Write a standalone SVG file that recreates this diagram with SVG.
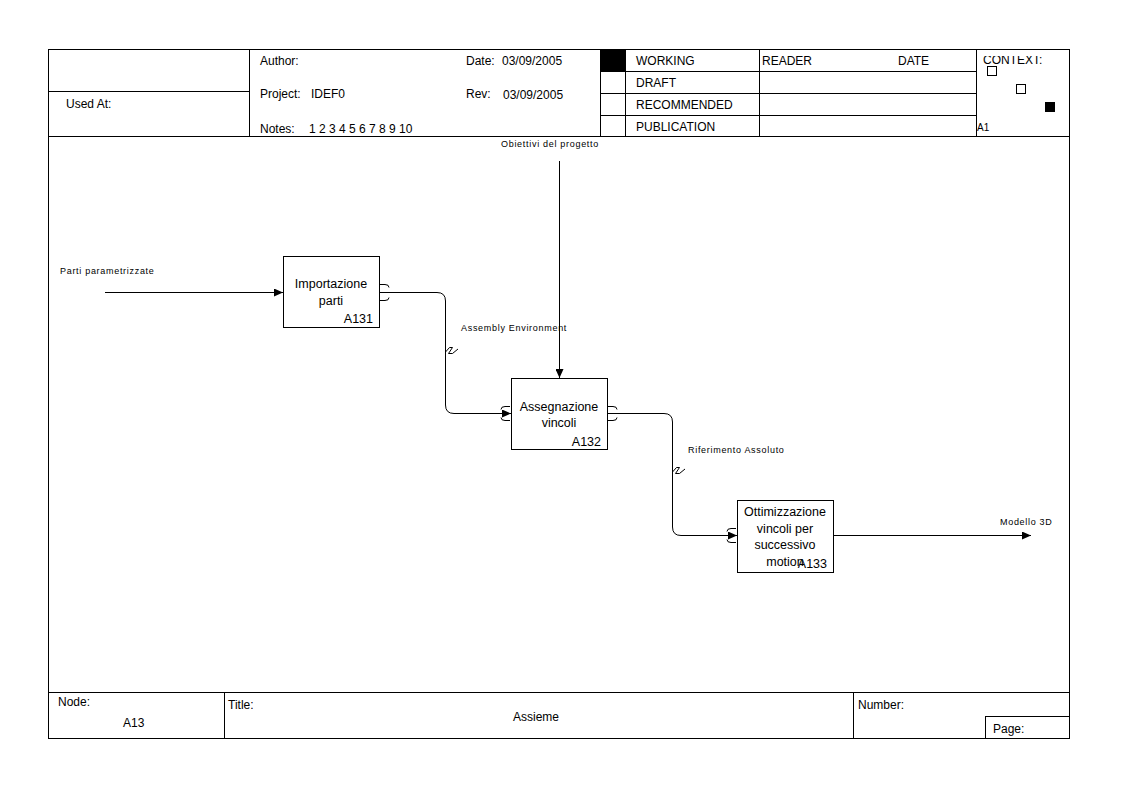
<svg xmlns="http://www.w3.org/2000/svg" width="1122" height="794" viewBox="0 0 1122 794">
<style>
.ln{stroke:#000;stroke-width:1;fill:none}
.t{font-family:"Liberation Sans",Arial,sans-serif;font-size:12px;fill:#000}
.s{font-family:"Liberation Sans",Arial,sans-serif;font-size:9px;letter-spacing:0.7px;fill:#000}
.b{font-family:"Liberation Sans",Arial,sans-serif;font-size:12.5px;fill:#000}
.box{fill:#fff;stroke:#000;stroke-width:1}
</style>
<defs>
<marker id="ah" markerWidth="10" markerHeight="8" refX="9" refY="4" orient="auto" markerUnits="userSpaceOnUse">
<path d="M0,0 L9,4 L0,8 Z" fill="#000"/>
</marker>
<clipPath id="ctx"><rect x="977" y="56" width="92" height="80"/></clipPath>
</defs>
<rect width="1122" height="794" fill="#fff"/>
<g id="frame">
<rect x="48.5" y="49.5" width="1021" height="689" class="ln"/>
<line x1="48" y1="136.5" x2="1070" y2="136.5" class="ln"/>
<line x1="48" y1="692.5" x2="1070" y2="692.5" class="ln"/>
</g>
<g id="header">
<line x1="249.5" y1="49" x2="249.5" y2="136" class="ln"/>
<line x1="48" y1="91.5" x2="249" y2="91.5" class="ln"/>
<text x="66" y="108" class="t">Used At:</text>
<text x="260" y="65" class="t">Author:</text>
<text x="466" y="65" class="t">Date:</text>
<text x="502" y="65" class="t">03/09/2005</text>
<text x="260" y="98" class="t">Project:</text>
<text x="311" y="98" class="t">IDEF0</text>
<text x="466" y="98" class="t">Rev:</text>
<text x="503" y="99" class="t">03/09/2005</text>
<text x="260" y="133" class="t">Notes:</text>
<text x="309" y="133" class="t">1 2 3 4 5 6 7 8 9 10</text>
<line x1="600.5" y1="49" x2="600.5" y2="136" class="ln"/>
<line x1="625.5" y1="49" x2="625.5" y2="136" class="ln"/>
<line x1="759.5" y1="49" x2="759.5" y2="136" class="ln"/>
<line x1="976.5" y1="49" x2="976.5" y2="136" class="ln"/>
<line x1="600" y1="71.5" x2="976" y2="71.5" class="ln"/>
<line x1="600" y1="93.5" x2="976" y2="93.5" class="ln"/>
<line x1="600" y1="115.5" x2="976" y2="115.5" class="ln"/>
<rect x="601" y="50" width="24" height="21" fill="#000"/>
<text x="636" y="65" class="t">WORKING</text>
<text x="636" y="87" class="t">DRAFT</text>
<text x="636" y="109" class="t">RECOMMENDED</text>
<text x="636" y="131" class="t">PUBLICATION</text>
<text x="762" y="65" class="t">READER</text>
<text x="898" y="65" class="t">DATE</text>
<text x="983" y="64" class="t" clip-path="url(#ctx)">CONTEXT:</text>
<rect x="987.5" y="66.5" width="9" height="9" class="ln" style="fill:#fff"/>
<rect x="1016.5" y="84.5" width="9" height="9" class="ln" style="fill:#fff"/>
<rect x="1045" y="102" width="10" height="10" fill="#000"/>
<text x="977" y="131" class="s" style="font-size:10px;letter-spacing:0">A1</text>
</g>
<g id="footer">
<line x1="224.5" y1="692" x2="224.5" y2="738" class="ln"/>
<line x1="853.5" y1="692" x2="853.5" y2="738" class="ln"/>
<rect x="985.5" y="716.5" width="84" height="22" class="ln"/>
<text x="58" y="706" class="t">Node:</text>
<text x="123" y="727" class="t">A13</text>
<text x="228" y="709" class="t">Title:</text>
<text x="536" y="721" class="t" text-anchor="middle">Assieme</text>
<text x="858" y="709" class="t">Number:</text>
<text x="993" y="733" class="t">Page:</text>
</g>
<g id="connectors">
<g id="c-input">
<line x1="105" y1="292.5" x2="283" y2="292.5" class="ln" marker-end="url(#ah)"/>
<text x="60" y="274" class="s">Parti parametrizzate</text>
</g>
<g id="c-control">
<line x1="559.5" y1="161" x2="559.5" y2="378" class="ln" marker-end="url(#ah)"/>
<text x="550" y="147" class="s" text-anchor="middle">Obiettivi del progetto</text>
</g>
<g id="c-assembly">
<path d="M379,292.5 H437 Q445.5,292.5 445.5,301 V405 Q445.5,413.5 454,413.5 H511" class="ln" marker-end="url(#ah)"/>
<path d="M445.5,352 L449.5,347.5 L452.5,347.5 L448.5,353.5 L452.5,353.5 L458,349" class="ln"/>
<text x="461" y="331" class="s">Assembly Environment</text>
<path d="M380,284.5 h5 q4,0 4,3" class="ln"/>
<path d="M380,300.5 h5 q4,0 4,-3" class="ln"/>
<path d="M510,406.5 h-5 q-4,0 -4,3" class="ln"/>
<path d="M510,420.5 h-5 q-4,0 -4,-3" class="ln"/>
</g>
<g id="c-riferimento">
<path d="M607,413.5 H664 Q672.5,413.5 672.5,422 V527 Q672.5,535.5 681,535.5 H737" class="ln" marker-end="url(#ah)"/>
<path d="M672.5,472 L676.5,467.5 L679.5,467.5 L675.5,473.5 L679.5,473.5 L685,469" class="ln"/>
<text x="688" y="453" class="s">Riferimento Assoluto</text>
<path d="M608,406.5 h5 q4,0 4,3" class="ln"/>
<path d="M608,420.5 h5 q4,0 4,-3" class="ln"/>
<path d="M736,528.5 h-5 q-4,0 -4,3" class="ln"/>
<path d="M736,542.5 h-5 q-4,0 -4,-3" class="ln"/>
</g>
<g id="c-output">
<line x1="833" y1="535.5" x2="1031" y2="535.5" class="ln" marker-end="url(#ah)"/>
<text x="1000" y="525" class="s">Modello 3D</text>
</g>
</g>
<g id="A131">
<rect x="283.5" y="256.5" width="96" height="71" class="box"/>
<text x="331" y="288" class="b" text-anchor="middle">Importazione</text>
<text x="331" y="305" class="b" text-anchor="middle">parti</text>
<text x="373" y="323" class="b" text-anchor="end">A131</text>
</g>
<g id="A132">
<rect x="511.5" y="378.5" width="96" height="71" class="box"/>
<text x="559" y="411" class="b" text-anchor="middle">Assegnazione</text>
<text x="559" y="427" class="b" text-anchor="middle">vincoli</text>
<text x="601" y="446" class="b" text-anchor="end">A132</text>
</g>
<g id="A133">
<rect x="737.5" y="500.5" width="96" height="72" class="box"/>
<text x="785" y="516" class="b" text-anchor="middle">Ottimizzazione</text>
<text x="785" y="533" class="b" text-anchor="middle">vincoli per</text>
<text x="785" y="549" class="b" text-anchor="middle">successivo</text>
<text x="785" y="566" class="b" text-anchor="middle">motion</text>
<text x="827" y="568" class="b" text-anchor="end">A133</text>
</g>
</svg>
